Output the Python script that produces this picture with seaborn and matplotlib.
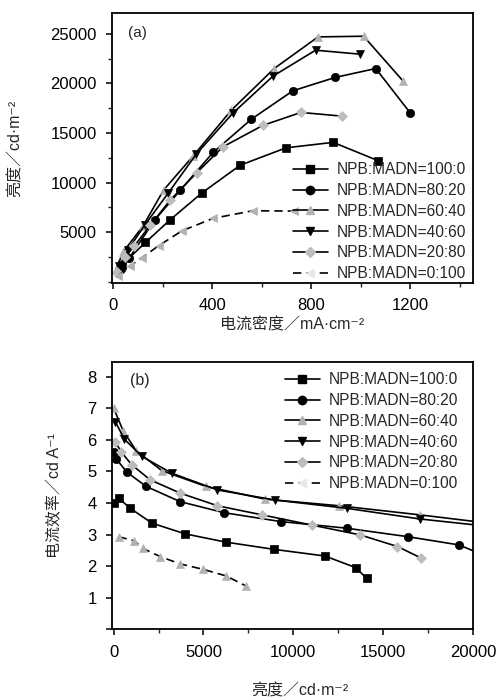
import matplotlib
matplotlib.use('Agg')
import matplotlib.pyplot as plt
from matplotlib.lines import Line2D
from matplotlib.ticker import MultipleLocator
import seaborn as sns

sns.set_style('ticks')
plt.rcParams['font.family'] = ['Liberation Sans', 'Noto Sans CJK SC', 'DejaVu Sans']

# series labels
labels = ['NPB:MADN=100:0', 'NPB:MADN=80:20', 'NPB:MADN=60:40',
          'NPB:MADN=40:60', 'NPB:MADN=20:80', 'NPB:MADN=0:100']

# (a) current density (mA/cm2) vs luminance (cd/m2)
a_x_100_0 = [35, 130, 228, 358, 513, 698, 888, 1070]
a_y_100_0 = [1700, 3950, 6200, 8950, 11750, 13500, 14050, 12200]
a_x_80_20 = [30, 65, 167, 271, 403, 558, 725, 896, 1060, 1200]
a_y_80_20 = [1300, 2400, 6200, 9230, 13030, 16390, 19250, 20600, 21500, 17000]
a_x_60_40 = [10, 40, 120, 203, 322, 477, 650, 827, 1011, 1170]
a_y_60_40 = [1200, 3000, 5600, 9230, 12660, 17300, 21500, 24690, 24760, 20250]
a_x_40_60 = [24, 59, 127, 221, 335, 482, 645, 817, 995]
a_y_40_60 = [1570, 3190, 5700, 8900, 12860, 16970, 20730, 23350, 22950]
a_x_20_80 = [15, 48, 85, 150, 230, 337, 443, 604, 758, 922]
a_y_20_80 = [1000, 2510, 3590, 5700, 8230, 10980, 13600, 15760, 17070, 16700]
a_x_0_100 = [21, 69, 116, 183, 278, 403, 563, 728]
a_y_0_100 = [600, 1600, 2410, 3620, 5130, 6380, 7150, 7120]

# (b) luminance (cd/m2) vs current efficiency (cd/A)
b_x_100_0 = [0, 278, 926, 2130, 3982, 6241, 8926, 11759, 13481, 14074]
b_y_100_0 = [4.0, 4.15, 3.83, 3.36, 3.02, 2.76, 2.53, 2.32, 1.95, 1.61]
b_x_80_20 = [40, 150, 741, 1815, 3704, 6148, 9296, 12963, 16389, 19222, 21000]
b_y_80_20 = [5.6, 5.39, 4.97, 4.52, 4.04, 3.69, 3.41, 3.20, 2.93, 2.67, 2.25]
b_x_60_40 = [0, 522, 1259, 2685, 5148, 8426, 12537, 17074, 21000]
b_y_60_40 = [7.0, 6.29, 5.65, 5.02, 4.52, 4.12, 3.91, 3.62, 3.35]
b_x_40_60 = [94, 594, 1574, 3241, 5778, 9000, 12963, 17074, 21000]
b_y_40_60 = [6.57, 6.02, 5.47, 4.94, 4.41, 4.09, 3.83, 3.49, 3.25]
b_x_20_80 = [94, 411, 1019, 2037, 3704, 5778, 8278, 11019, 13704, 15796, 17130]
b_y_20_80 = [5.94, 5.62, 5.20, 4.73, 4.31, 3.91, 3.62, 3.30, 2.99, 2.62, 2.25]
b_x_0_100 = [278, 1148, 1630, 2593, 3704, 4963, 6259, 7370]
b_y_0_100 = [2.93, 2.80, 2.56, 2.30, 2.07, 1.90, 1.69, 1.37]

gray = '#b2b2b2'
styles = [
    dict(marker='s', mfc='black', ls='-'),
    dict(marker='o', mfc='black', ls='-'),
    dict(marker='^', mfc=gray, ls='-'),
    dict(marker='v', mfc='black', ls='-'),
    dict(marker='D', mfc='#bdbdbd', ls='-', ms=5),
    dict(marker='<', mfc=gray, ls=(0, (5, 3))),
]

def draw(ax, xs, ys, markers0100):
    for i, (x, y) in enumerate(zip(xs, ys)):
        st = dict(styles[i])
        if i == 5:
            st['marker'] = markers0100
        ms = st.pop('ms', 6)
        sns.lineplot(x=x, y=y, ax=ax, sort=False, color='black', linewidth=1.2,
                     linestyle=st['ls'], marker=st['marker'], markersize=ms,
                     markerfacecolor=st['mfc'], markeredgecolor=st['mfc'],
                     markeredgewidth=0.5)

def legend(ax, anchor):
    handles = []
    for i, lab in enumerate(labels):
        st = styles[i]
        mfc = '#e8e8e8' if i == 5 else st['mfc']
        handles.append(Line2D([], [], color='black', lw=1.2, ls=st['ls'],
                              marker=st['marker'], markersize=st.get('ms', 6),
                              markerfacecolor=mfc, markeredgecolor=mfc, label=lab))
    ax.legend(handles=handles, loc='upper left', bbox_to_anchor=anchor,
              frameon=False, fontsize=11.2, borderpad=0, borderaxespad=0,
              handlelength=2.3, handletextpad=0.55, labelspacing=0.37)

def style(ax):
    for s in ax.spines.values():
        s.set_linewidth(1.3)
        s.set_color('black')
    ax.tick_params(which='major', direction='out', length=4.5, width=1.1,
                   labelsize=12, pad=6.5, top=False, right=False, colors='black')
    ax.tick_params(which='minor', direction='out', length=3, width=1.0,
                   top=False, right=False)

fig = plt.figure(figsize=(5.01, 7.0), dpi=100)
ax1 = fig.add_axes([0.2236, 0.5957, 0.7206, 0.3857])
ax2 = fig.add_axes([0.2236, 0.1010, 0.7206, 0.3823])

draw(ax1, [a_x_100_0, a_x_80_20, a_x_60_40, a_x_40_60, a_x_20_80, a_x_0_100],
     [a_y_100_0, a_y_80_20, a_y_60_40, a_y_40_60, a_y_20_80, a_y_0_100], '<')
draw(ax2, [b_x_100_0, b_x_80_20, b_x_60_40, b_x_40_60, b_x_20_80, b_x_0_100],
     [b_y_100_0, b_y_80_20, b_y_60_40, b_y_40_60, b_y_20_80, b_y_0_100], '^')

# panel (a)
ax1.set_xlim(-5, 1453)
ax1.set_ylim(-140, 27100)
ax1.set_xticks([0, 400, 800, 1200])
ax1.xaxis.set_minor_locator(MultipleLocator(200))
ax1.set_yticks([5000, 10000, 15000, 20000, 25000])
ax1.yaxis.set_minor_locator(MultipleLocator(2500))
style(ax1)
ax1.set_xlabel('电流密度／mA·cm⁻²', fontsize=11.5)
ax1.set_ylabel('亮度／cd·m⁻²', fontsize=11.5)
ax1.xaxis.set_label_coords(0.5, -0.128)
ax1.yaxis.set_label_coords(-0.249, 0.5)
ax1.text(0.045, 0.925, '(a)', transform=ax1.transAxes, fontsize=11, va='center')
legend(ax1, (0.5, 0.447))

# panel (b)
ax2.set_xlim(-90, 20000)
ax2.set_ylim(0, 8.47)
ax2.set_xticks([0, 5000, 10000, 15000, 20000])
ax2.xaxis.set_minor_locator(MultipleLocator(2500))
ax2.set_yticks(range(0, 9))
ax2.set_yticklabels([''] + [str(v) for v in range(1, 9)])
style(ax2)
ax2.set_xlabel('亮度／cd·m⁻²', fontsize=11.5)
ax2.set_ylabel('电流效率／cd A⁻¹', fontsize=11.5)
ax2.xaxis.set_label_coords(0.52, -0.2)
ax2.yaxis.set_label_coords(-0.1385, 0.5)
ax2.text(0.05, 0.93, '(b)', transform=ax2.transAxes, fontsize=11.5, va='center')
legend(ax2, (0.478, 0.96))

fig.savefig('out.png', dpi=100)
